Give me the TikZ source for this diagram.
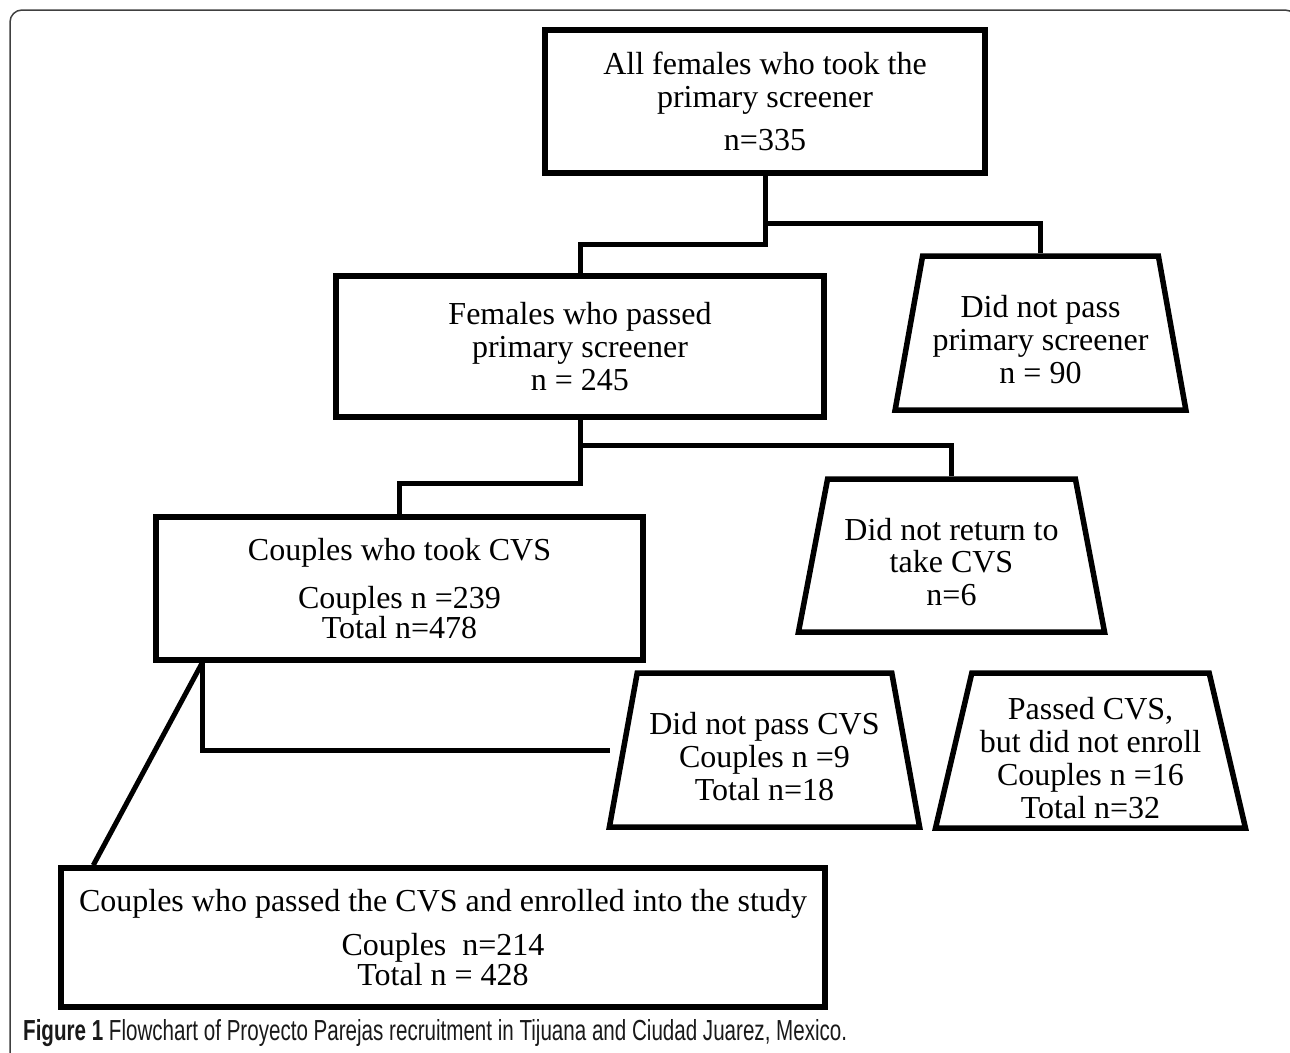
\documentclass[tikz,border=0pt]{standalone}
\usepackage{fontspec}
\setmainfont{Liberation Serif}
\newfontfamily\capfont{Liberation Sans}
\usetikzlibrary{shapes.geometric}
\newcommand\lift{\rule{0pt}{35pt}}
\begin{document}
\begin{tikzpicture}[x=1pt,y=-1pt,
  box/.style={draw, line width=5.5pt, inner sep=0pt, align=center,
    font=\fontsize{32}{32.8}\selectfont},
  trap/.style={box, trapezium, trapezium left angle=76, trapezium right angle=76,
    trapezium stretches=true},
  link/.style={line width=5pt}]
\useasboundingbox (0,0) rectangle (1290,1052);
% frame
\draw[line width=1.5pt, black!75, rounded corners=12pt] (10,1070) -- (10,10) -- (1297,10) -- (1297,1070);
% boxes
\node[box, minimum width=440pt, minimum height=143pt] (b1) at (765,101.5)
  {All females who took the\\primary screener\\[10pt]n=335};
\node[box, minimum width=488pt, minimum height=141pt] (b2) at (580,346.5)
  {Females who passed\\primary screener\\n = 245};
\node[box, minimum width=487pt, minimum height=143pt] (b3) at (399.5,588.5)
  {Couples who took CVS\\[16pt]Couples n =239\\[-2.8pt]Total n=478};
\node[box, minimum width=764pt, minimum height=139pt] (b4) at (443,937.5)
  {Couples who passed the CVS and enrolled into the study\\[11pt]Couples\ \ n=214\\[-2.8pt]Total n = 428};
\node[trap, minimum width=291pt, minimum height=154pt] (t1) at (1040.5,333)
  {\lift Did not pass\\primary screener\\n = 90};
\node[trap, minimum width=307pt, minimum height=153pt] (t2) at (951.5,555.5)
  {\lift Did not return to\\take CVS\\n=6};
\node[trap, minimum width=311pt, minimum height=154pt] (t3) at (764.5,750)
  {\lift Did not pass CVS\\Couples n =9\\Total n=18};
\node[trap, minimum width=311pt, minimum height=155pt] (t4) at (1090.5,750.5)
  {\rule{0pt}{37pt}Passed CVS,\\but did not enroll\\Couples n =16\\Total n=32};
% connectors
\coordinate (j1) at (765,223);
\coordinate (j2) at (765,244);
\coordinate (k1) at (580,445);
\coordinate (k2) at (580,483);
\coordinate (m0) at ([xshift=49pt]b3.south west);
\coordinate (m1) at (610,750);
\coordinate (m2) at ([xshift=35pt]b4.north west);
\draw[link] (b1.south) -- (j2) -| (b2.north);
\draw[link] (j1) -| (t1.north);
\draw[link] (b2.south) -- (k2) -| (b3.north);
\draw[link] (k1) -| (t2.north);
\draw[link] (m0) |- (m1);
\draw[link] (m0) -- (m2);
% caption
\node[anchor=west, inner sep=0pt] (cap) at (23,1033)
  {\resizebox{824pt}{\height}{\fontsize{29}{29}\capfont\color{black!90}\textbf{Figure 1} Flowchart of Proyecto Parejas recruitment in Tijuana and Ciudad Juarez, Mexico.}};
\end{tikzpicture}
\end{document}
